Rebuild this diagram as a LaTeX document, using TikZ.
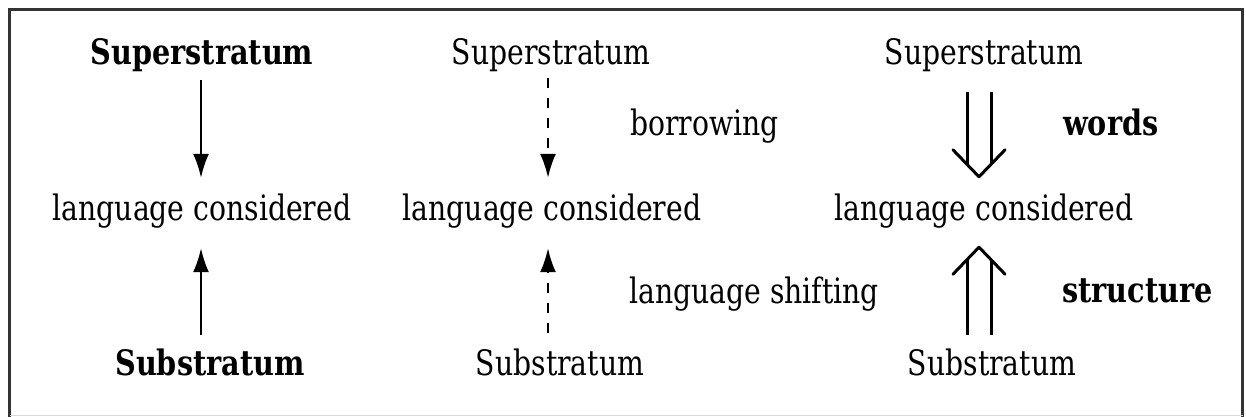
\documentclass[tikz,border=0pt]{standalone}
\usepackage{fontspec}
\setmainfont{DejaVu Serif}[FakeStretch=0.807,BoldFeatures={FakeStretch=0.82}]
\usetikzlibrary{arrows.meta,calc}

\begin{document}
\begin{tikzpicture}[x=1pt,y=-1pt,
  lbl/.style={anchor=base,inner sep=0pt,font=\fontsize{35}{40}\selectfont,
              text height=26pt,text depth=8pt},
  lblw/.style={lbl,anchor=base west},
  heavy/.style={font=\fontsize{35}{40}\selectfont\bfseries},
  sarrow/.style={line width=2pt,-{Latex[length=24pt,width=16pt]}},
  darrow/.style={sarrow,dash pattern=on 10pt off 10pt},
  shafts/.style={line width=3pt,double,double distance=21pt},
  vhead/.style={line width=3pt,line join=round,line cap=round}]
  \useasboundingbox (0,0) rectangle (1246,416);
  % frame
  \draw[line width=3pt,color=black!80] (9.5,417) -- (9.5,9.5) -- (1242.5,9.5) -- (1242.5,417);
  \draw[line width=1pt,color=black!15] (9.5,415) -- (1242.5,415);

  % column 1
  \node[lbl,heavy] (sup1) at (202,64) {Superstratum};
  \node[lbl] (lc1) at (202,220) {language considered};
  \node[lbl,heavy] (sub1) at (210,375) {Substratum};
  \coordinate (ax1) at (201,0);
  \draw[sarrow,shorten <=8pt,shorten >=16pt] (ax1 |- sup1.south) -- (ax1 |- lc1.north);
  \draw[sarrow,shorten <=14pt,shorten >=20pt] (ax1 |- sub1.north) -- (ax1 |- lc1.south);

  % column 2
  \node[lbl] (sup2) at (551,64) {Superstratum};
  \node[lbl] (lc2) at (552,220) {language considered};
  \node[lbl] (sub2) at (560,375) {Substratum};
  \node[lblw] (borrow) at (630,135) {borrowing};
  \node[lblw] (shift) at (629,303) {language shifting};
  \coordinate (ax2) at (548,0);
  \draw[darrow,shorten <=6pt,shorten >=16pt] (ax2 |- sup2.south) -- (ax2 |- lc2.north);
  \draw[darrow,shorten <=16pt,shorten >=20pt] (ax2 |- sub2.north) -- (ax2 |- lc2.south);

  % column 3
  \node[lbl] (sup3) at (984,64) {Superstratum};
  \node[lbl] (lc3) at (984,220) {language considered};
  \node[lbl] (sub3) at (992,375) {Substratum};
  \node[lblw,heavy] (words) at (1063,135) {words};
  \node[lblw,heavy] (struct) at (1062,302) {structure};
  \coordinate (ax3) at (979,0);
  \coordinate (wtop) at ([yshift=-20pt]ax3 |- sup3.south);
  \coordinate (wtip) at ([yshift=17pt]ax3 |- lc3.north);
  \coordinate (stip) at ([yshift=-19pt]ax3 |- lc3.south);
  \coordinate (sbot) at ([yshift=14pt]ax3 |- sub3.north);
  \draw[shafts,shorten >=12.5pt] (wtop) -- (wtip);
  \draw[vhead] ($(wtip)+(-26,-27)$) -- (wtip) -- ($(wtip)+(26,-27)$);
  \draw[shafts,shorten >=12.5pt] (sbot) -- (stip);
  \draw[vhead] ($(stip)+(-26,27)$) -- (stip) -- ($(stip)+(26,27)$);
\end{tikzpicture}
\end{document}
